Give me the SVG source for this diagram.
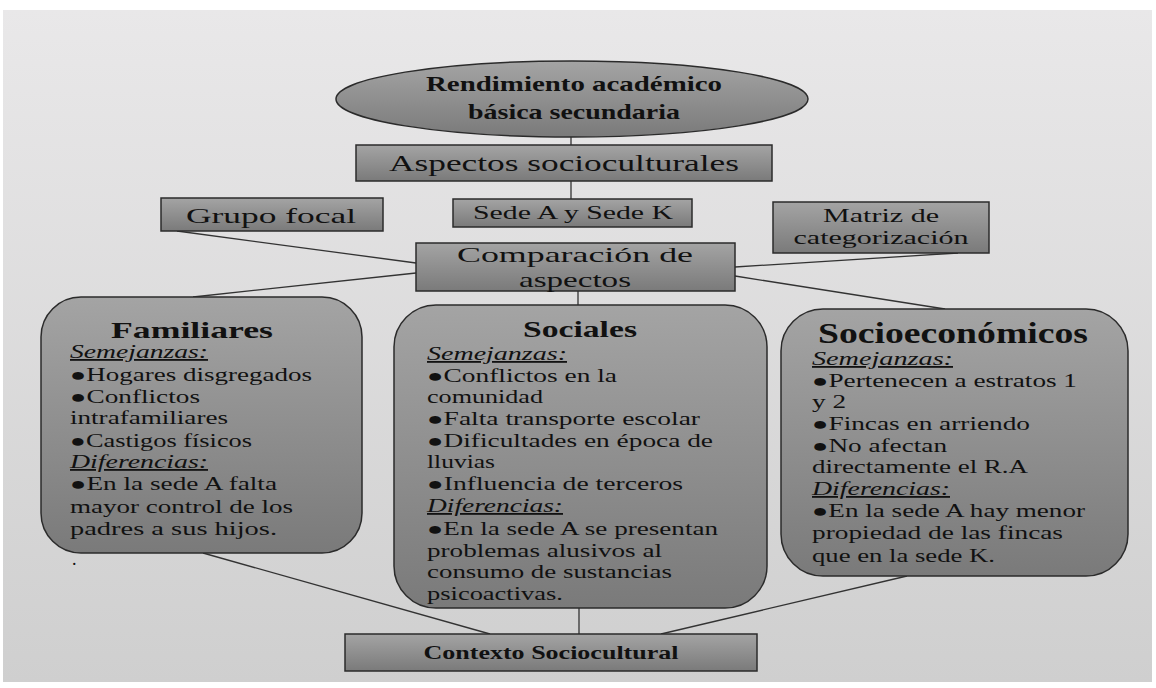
<svg xmlns="http://www.w3.org/2000/svg" width="1156" height="688" viewBox="0 0 1156 688">
<defs>
<linearGradient id="bg" x1="0" y1="0" x2="0" y2="1"><stop offset="0" stop-color="#e9e8e9"/><stop offset="1" stop-color="#cfcfcf"/></linearGradient>
<linearGradient id="box" x1="0" y1="0" x2="0" y2="1"><stop offset="0" stop-color="#a4a4a4"/><stop offset="1" stop-color="#7a7a7a"/></linearGradient>
<style>
.n{fill:url(#box);stroke:#2b2b2b;stroke-width:1.5}
.c{stroke:#333;stroke-width:1.3;fill:none}
.t{font-family:"Liberation Serif","Times New Roman",serif;fill:#111}
.b{font-weight:bold}
.i{font-style:italic;text-decoration:underline}
.m{text-anchor:middle}
</style>
</defs>
<rect x="0" y="0" width="1156" height="688" fill="#fff"/>
<rect x="3" y="10" width="1149" height="672" fill="url(#bg)"/>
<g id="connectors">
<line class="c" x1="571" y1="136" x2="571" y2="145"/>
<line class="c" x1="571" y1="181" x2="571" y2="199"/>
<line class="c" x1="177" y1="231" x2="416" y2="263"/>
<line class="c" x1="416" y1="273" x2="193" y2="297"/>
<line class="c" x1="735" y1="267" x2="958" y2="253"/>
<line class="c" x1="735" y1="276" x2="945" y2="309"/>
<line class="c" x1="578" y1="291" x2="578" y2="305"/>
<line class="c" x1="203" y1="553" x2="490" y2="634"/>
<line class="c" x1="579" y1="608" x2="579" y2="634"/>
<line class="c" x1="907" y1="576" x2="661" y2="634"/>
</g>
<g id="rendimiento">
<ellipse class="n" cx="572" cy="99" rx="236" ry="38"/>
<text class="t b m" x="574" y="91" font-size="22" textLength="296" lengthAdjust="spacingAndGlyphs">Rendimiento  académico</text>
<text class="t b m" x="574" y="119" font-size="22" textLength="212" lengthAdjust="spacingAndGlyphs">básica secundaria</text>
</g>
<g id="aspectos">
<rect class="n" x="356" y="145" width="416" height="36"/>
<text class="t m" x="564" y="171" font-size="24" textLength="350" lengthAdjust="spacingAndGlyphs">Aspectos  socioculturales</text>
</g>
<g id="grupo">
<rect class="n" x="161" y="198" width="222" height="33"/>
<text class="t m" x="271" y="223" font-size="22" textLength="170" lengthAdjust="spacingAndGlyphs">Grupo  focal</text>
</g>
<g id="sede">
<rect class="n" x="453" y="199" width="239" height="28"/>
<text class="t m" x="573" y="219" font-size="19" textLength="200" lengthAdjust="spacingAndGlyphs">Sede A y Sede K</text>
</g>
<g id="matriz">
<rect class="n" x="773" y="202" width="216" height="51"/>
<text class="t m" x="881" y="222" font-size="19" textLength="116" lengthAdjust="spacingAndGlyphs">Matriz  de</text>
<text class="t m" x="881" y="244" font-size="19" textLength="175" lengthAdjust="spacingAndGlyphs">categorización</text>
</g>
<g id="comparacion">
<rect class="n" x="416" y="243" width="319" height="48"/>
<text class="t m" x="575" y="262" font-size="22" textLength="236" lengthAdjust="spacingAndGlyphs">Comparación  de</text>
<text class="t m" x="575" y="287" font-size="22" textLength="112" lengthAdjust="spacingAndGlyphs">aspectos</text>
</g>
<g id="familiares">
<rect class="n" x="41" y="297" width="321" height="256" rx="40"/>
<text class="t b m" x="192" y="338" font-size="24" textLength="162" lengthAdjust="spacingAndGlyphs">Familiares</text>
<text class="t i" x="70" y="358" font-size="18" textLength="138" lengthAdjust="spacingAndGlyphs">Semejanzas:</text>
<text class="t" x="70" y="381" font-size="18" textLength="242" lengthAdjust="spacingAndGlyphs">●Hogares disgregados</text>
<text class="t" x="70" y="403" font-size="18" textLength="130" lengthAdjust="spacingAndGlyphs">●Conflictos</text>
<text class="t" x="70" y="424" font-size="18" textLength="158" lengthAdjust="spacingAndGlyphs">intrafamiliares</text>
<text class="t" x="70" y="447" font-size="18" textLength="182" lengthAdjust="spacingAndGlyphs">●Castigos físicos</text>
<text class="t i" x="70" y="468" font-size="18" textLength="138" lengthAdjust="spacingAndGlyphs">Diferencias:</text>
<text class="t" x="70" y="490" font-size="18" textLength="207" lengthAdjust="spacingAndGlyphs">●En la sede A falta</text>
<text class="t" x="70" y="513" font-size="18" textLength="223" lengthAdjust="spacingAndGlyphs">mayor control de los</text>
<text class="t" x="70" y="535" font-size="18" textLength="207" lengthAdjust="spacingAndGlyphs">padres a sus hijos.</text>
<text class="t" x="72" y="565" font-size="18">.</text>
</g>
<g id="sociales">
<rect class="n" x="394" y="305" width="373" height="303" rx="42"/>
<text class="t b m" x="580" y="337" font-size="23" textLength="114" lengthAdjust="spacingAndGlyphs">Sociales</text>
<text class="t i" x="427" y="360" font-size="18" textLength="140" lengthAdjust="spacingAndGlyphs">Semejanzas:</text>
<text class="t" x="427" y="382" font-size="18" textLength="190" lengthAdjust="spacingAndGlyphs">●Conflictos en la</text>
<text class="t" x="427" y="403" font-size="18" textLength="116" lengthAdjust="spacingAndGlyphs">comunidad</text>
<text class="t" x="427" y="425" font-size="18" textLength="273" lengthAdjust="spacingAndGlyphs">●Falta transporte escolar</text>
<text class="t" x="427" y="447" font-size="18" textLength="286" lengthAdjust="spacingAndGlyphs">●Dificultades en época de</text>
<text class="t" x="427" y="468" font-size="18" textLength="68" lengthAdjust="spacingAndGlyphs">lluvias</text>
<text class="t" x="427" y="490" font-size="18" textLength="256" lengthAdjust="spacingAndGlyphs">●Influencia  de terceros</text>
<text class="t i" x="427" y="512" font-size="18" textLength="136" lengthAdjust="spacingAndGlyphs">Diferencias:</text>
<text class="t" x="427" y="535" font-size="18" textLength="291" lengthAdjust="spacingAndGlyphs">●En la sede A se presentan</text>
<text class="t" x="427" y="557" font-size="18" textLength="235" lengthAdjust="spacingAndGlyphs">problemas alusivos al</text>
<text class="t" x="427" y="578" font-size="18" textLength="245" lengthAdjust="spacingAndGlyphs">consumo de sustancias</text>
<text class="t" x="427" y="600" font-size="18" textLength="136" lengthAdjust="spacingAndGlyphs">psicoactivas.</text>
</g>
<g id="socioeconomicos">
<rect class="n" x="781" y="309" width="347" height="267" rx="42"/>
<text class="t b m" x="953" y="343" font-size="29" textLength="270" lengthAdjust="spacingAndGlyphs">Socioeconómicos</text>
<text class="t i" x="812" y="365" font-size="18" textLength="141" lengthAdjust="spacingAndGlyphs">Semejanzas:</text>
<text class="t" x="812" y="387" font-size="18" textLength="265" lengthAdjust="spacingAndGlyphs">●Pertenecen a estratos 1</text>
<text class="t" x="812" y="408" font-size="18" textLength="34" lengthAdjust="spacingAndGlyphs">y 2</text>
<text class="t" x="812" y="430" font-size="18" textLength="218" lengthAdjust="spacingAndGlyphs">●Fincas en arriendo</text>
<text class="t" x="812" y="452" font-size="18" textLength="135" lengthAdjust="spacingAndGlyphs">●No afectan</text>
<text class="t" x="812" y="473" font-size="18" textLength="216" lengthAdjust="spacingAndGlyphs">directamente el R.A</text>
<text class="t i" x="812" y="495" font-size="18" textLength="138" lengthAdjust="spacingAndGlyphs">Diferencias:</text>
<text class="t" x="812" y="517" font-size="18" textLength="273" lengthAdjust="spacingAndGlyphs">●En la sede A hay menor</text>
<text class="t" x="812" y="539" font-size="18" textLength="251" lengthAdjust="spacingAndGlyphs">propiedad de las fincas</text>
<text class="t" x="812" y="562" font-size="18" textLength="183" lengthAdjust="spacingAndGlyphs">que en la sede K.</text>
</g>
<g id="contexto">
<rect class="n" x="345" y="634" width="412" height="37"/>
<text class="t b m" x="551" y="659" font-size="18" textLength="255" lengthAdjust="spacingAndGlyphs">Contexto Sociocultural</text>
</g>
</svg>
